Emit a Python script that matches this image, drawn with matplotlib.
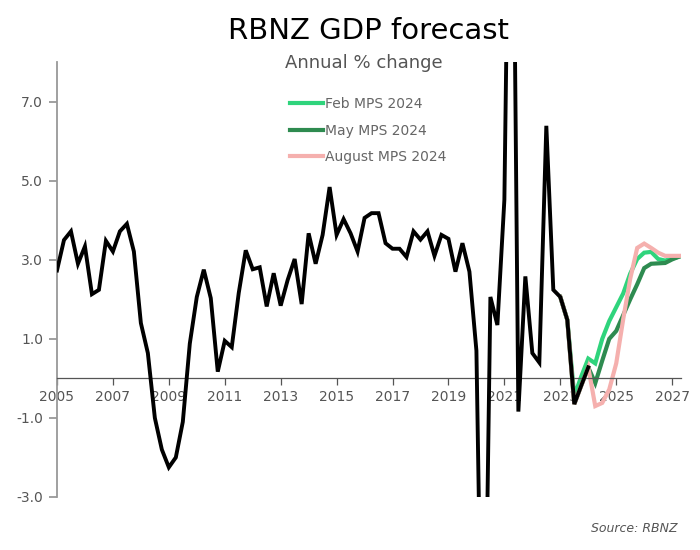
import numpy as np
import matplotlib
matplotlib.use('Agg')
import matplotlib.pyplot as plt

# actual GDP, annual % change, quarterly from 2005Q1 to 2024Q1
actual = [2.73, 3.50, 3.72, 2.90,
          3.34, 2.13, 2.24, 3.48,
          3.21, 3.72, 3.91, 3.21,
          1.40, 0.64, -1.00, -1.80,
          -2.25, -2.00, -1.10, 0.88,
          2.06, 2.75, 2.03, 0.17,
          0.95, 0.79, 2.16, 3.24,
          2.76, 2.81, 1.82, 2.66,
          1.84, 2.49, 3.02, 1.88,
          3.67, 2.90, 3.63, 4.84,
          3.63, 4.03, 3.67, 3.21,
          4.06, 4.18, 4.18, 3.42,
          3.28, 3.28, 3.07, 3.72,
          3.51, 3.72, 3.10, 3.63,
          3.53, 2.70, 3.42, 2.70,
          0.70, -10.2, 2.06, 1.35,
          4.52, 17.9, -0.84, 2.58,
          0.64, 0.40, 6.39, 2.24,
          2.06, 1.48, -0.65, -0.18,
          0.28]
actual_start = 2005.0

# MPS forecasts, quarterly from 2023Q1 to 2027Q2
fcst_start = 2023.0
feb = [2.06, 1.48, -0.45, 0.05, 0.50, 0.38, 1.00, 1.45, 1.80, 2.15, 2.65, 3.02,
       3.18, 3.20, 3.02, 2.98, 3.03, 3.08]
may = [2.06, 1.48, -0.65, -0.18, 0.28, -0.12, 0.45, 1.00, 1.20, 1.60, 2.00, 2.38,
       2.79, 2.90, 2.91, 2.92, 3.01, 3.08]
aug = [2.06, 1.48, -0.65, -0.18, 0.28, -0.70, -0.62, -0.28, 0.38, 1.50, 2.52, 3.30,
       3.41, 3.30, 3.18, 3.10, 3.10, 3.10]

labels = ['Feb MPS 2024', 'May MPS 2024', 'August MPS 2024']
colors = ['#2fd47c', '#2e8b50', '#f5b0ae']
years = list(range(2005, 2028, 2))
yticks = [-3.0, -1.0, 1.0, 3.0, 5.0, 7.0]

plt.rcParams['font.family'] = ['DejaVu Sans']

fig = plt.figure(figsize=(7, 5.5), dpi=100)
ax = fig.add_axes([0.0814, 0.0964, 0.8916, 0.7906])

xa = actual_start + 0.25 * np.arange(len(actual))
xf = fcst_start + 0.25 * np.arange(len(feb))

for vals, lab, col in zip([feb, may, aug], labels, colors):
    ax.plot(xf, vals, color=col, lw=3.0, label=lab, solid_joinstyle='miter', zorder=2)
ax.plot(xa, actual, color='black', lw=2.8, solid_joinstyle='miter', zorder=3)

ax.set_xlim(2005, 2027.32)
ax.set_ylim(-3.0, 8.0)

ax.spines['top'].set_visible(False)
ax.spines['right'].set_visible(False)
ax.spines['bottom'].set_position(('data', 0))
ax.spines['bottom'].set_color('#555555')
ax.spines['bottom'].set_linewidth(0.9)
ax.spines['left'].set_color('#999999')
ax.spines['left'].set_linewidth(1.3)

ax.set_xticks(years)
ax.set_xticklabels([str(y) for y in years])
ax.set_yticks(yticks)
ax.set_yticklabels(['%.1f' % v for v in yticks])
ax.tick_params(axis='x', colors='#555555', labelcolor='#555555', length=5, width=0.9,
               labelsize=10, pad=3)
ax.tick_params(axis='y', colors='#999999', labelcolor='#555555', length=6, width=1.3,
               labelsize=10, pad=4)

leg = ax.legend(loc='upper left', bbox_to_anchor=(0.353, 0.948), frameon=False,
                fontsize=10, handlelength=2.4, handletextpad=0.1, labelspacing=0.9)
for t in leg.get_texts():
    t.set_color('#666666')

fig.text(0.527, 0.943, 'RBNZ GDP forecast', ha='center', va='center', fontsize=21, color='black')
fig.text(0.52, 0.885, 'Annual % change', ha='center', va='center', fontsize=13, color='#555555')
fig.text(0.968, 0.04, 'Source: RBNZ', ha='right', va='center', fontsize=9, style='italic',
         color='#555555')

fig.savefig('out.png', dpi=100)
